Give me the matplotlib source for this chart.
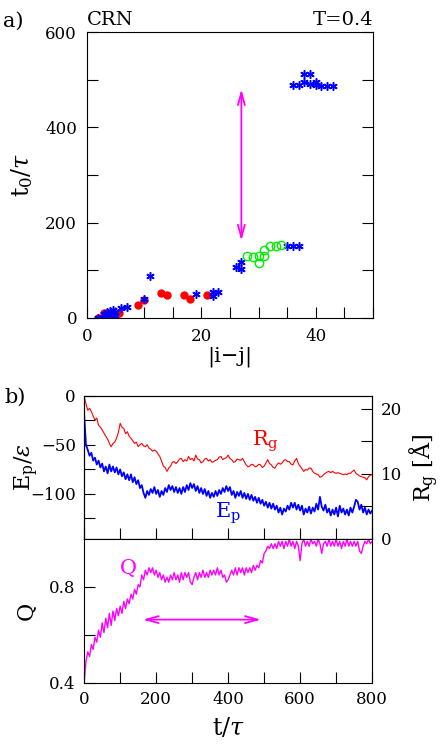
import numpy as np
import matplotlib
matplotlib.use('Agg')
import matplotlib.pyplot as plt
from matplotlib.ticker import MultipleLocator, FixedLocator

plt.rcParams['font.family'] = ['DejaVu Serif']
plt.rcParams['mathtext.fontset'] = 'dejavuserif'

# ---- panel a) : formation time of contacts vs sequence distance ----
red_x = [2, 3, 3, 4, 5.6, 9, 10, 13, 14, 17, 18, 21]
red_y = [0, 10, 1, 1, 10, 27, 38, 52, 48, 48, 39, 47]

blue_x = [2, 3, 3, 3.5, 4, 4, 4.5, 5, 5, 6, 7, 10, 11, 19, 22, 22, 23,
          26, 27, 27, 35, 36, 37, 36, 37, 38, 39, 38, 39, 40, 40, 41, 42, 43]
blue_y = [0, 2, 8, 12, 5, 15, 17, 13, 4, 20, 22, 39, 87, 50, 54, 45, 54,
          106, 117, 103, 150, 150, 150, 489, 489, 512, 512, 496, 491, 496, 489, 487, 487, 487]

green_x = [28, 29, 30, 30, 31, 31, 32, 33, 34]
green_y = [129, 128, 129, 115, 129, 142, 150, 150, 152]

arrow_a_x = 27
arrow_a_y = (162, 480)

# ---- panel b) : time series ----
t = list(range(0, 805, 5))

rg = [21.9, 20.8, 19.8, 20.1, 19.6, 18.9, 18.3, 18.6, 17.5, 17.2,
      16.8, 16.3, 15.8, 15.4, 14.7, 14.2, 14.7, 14.9, 15.5, 16.4,
      17.8, 17.2, 17.0, 16.2, 16.5, 15.8, 15.5, 15.1, 14.7, 14.9,
      14.2, 14.5, 14.7, 14.3, 14.2, 14.5, 14.0, 13.8, 13.5, 13.7,
      13.5, 13.1, 12.7, 12.0, 11.2, 11.0, 10.4, 10.9, 11.2, 11.8,
      11.9, 11.6, 11.9, 12.3, 12.4, 11.9, 12.2, 12.0, 12.7, 12.2,
      12.4, 12.0, 12.9, 12.3, 12.2, 11.7, 11.9, 12.3, 12.4, 12.0,
      12.2, 11.8, 11.9, 12.1, 12.2, 12.6, 12.7, 12.2, 12.4, 12.5,
      12.9, 12.4, 12.2, 11.8, 11.9, 12.3, 12.2, 12.1, 12.4, 11.9,
      11.4, 11.1, 11.2, 11.5, 11.4, 11.1, 11.2, 11.5, 11.4, 11.0,
      11.2, 11.7, 12.2, 11.6, 11.4, 11.0, 10.9, 11.4, 11.7, 11.5,
      11.7, 12.1, 12.2, 11.9, 11.9, 11.5, 11.4, 12.0, 12.4, 11.6,
      11.2, 10.8, 10.4, 10.7, 10.6, 10.9, 10.9, 10.4, 10.1, 10.0,
      9.9, 9.5, 9.6, 9.9, 10.1, 10.3, 10.4, 10.2, 10.4, 10.2,
      10.1, 10.2, 10.1, 10.0, 9.9, 10.0, 9.9, 10.1, 10.1, 10.4,
      10.6, 10.1, 9.9, 9.7, 9.6, 9.5, 9.4, 9.1, 9.6, 9.8,
      9.9]

ep = [-20, -50, -55, -61, -58, -66, -63, -70, -66, -73,
      -69, -77, -72, -79, -70, -77, -72, -78, -73, -80,
      -75, -82, -78, -85, -80, -86, -80, -88, -83, -90,
      -86, -94, -91, -99, -104, -97, -101, -95, -99, -93,
      -100, -96, -103, -97, -101, -94, -98, -91, -96, -92,
      -98, -93, -99, -94, -100, -93, -98, -91, -96, -89,
      -94, -90, -97, -92, -99, -94, -100, -95, -102, -97,
      -104, -99, -103, -97, -102, -96, -100, -94, -98, -92,
      -97, -93, -101, -97, -104, -98, -102, -97, -104, -99,
      -105, -100, -106, -101, -107, -103, -109, -104, -110, -106,
      -112, -108, -114, -109, -115, -110, -116, -112, -119, -114,
      -121, -115, -118, -112, -116, -109, -114, -109, -116, -111,
      -117, -112, -121, -115, -119, -113, -120, -114, -118, -110,
      -116, -103, -113, -117, -111, -119, -115, -122, -116, -121,
      -114, -123, -112, -119, -115, -121, -116, -122, -114, -119,
      -113, -106, -108, -116, -111, -119, -114, -121, -116, -120,
      -117]

q = [0.40, 0.49, 0.53, 0.51, 0.56, 0.54, 0.59, 0.57, 0.62, 0.59,
     0.65, 0.61, 0.67, 0.63, 0.69, 0.64, 0.70, 0.66, 0.71, 0.68,
     0.72, 0.69, 0.74, 0.71, 0.75, 0.73, 0.77, 0.75, 0.79, 0.77,
     0.81, 0.80, 0.85, 0.83, 0.87, 0.85, 0.88, 0.86, 0.88, 0.85,
     0.87, 0.84, 0.86, 0.83, 0.85, 0.82, 0.84, 0.82, 0.85, 0.83,
     0.86, 0.83, 0.85, 0.82, 0.86, 0.83, 0.86, 0.84, 0.86, 0.82,
     0.81, 0.84, 0.86, 0.83, 0.86, 0.84, 0.87, 0.84, 0.86, 0.84,
     0.87, 0.85, 0.87, 0.85, 0.88, 0.85, 0.87, 0.84, 0.85, 0.82,
     0.83, 0.85, 0.87, 0.85, 0.88, 0.85, 0.88, 0.86, 0.88, 0.85,
     0.88, 0.86, 0.88, 0.86, 0.89, 0.87, 0.89, 0.88, 0.91, 0.90,
     0.94, 0.95, 0.97, 0.96, 0.98, 0.96, 0.98, 0.96, 0.99, 0.97,
     0.99, 0.96, 0.99, 0.97, 1.00, 0.97, 0.99, 0.96, 0.99, 0.97,
     0.91, 0.98, 1.00, 0.97, 0.99, 0.97, 1.00, 0.98, 0.99, 0.97,
     1.00, 0.98, 0.94, 0.98, 0.99, 0.97, 1.00, 0.97, 0.99, 0.97,
     1.00, 0.97, 0.99, 0.96, 0.99, 0.97, 1.00, 0.97, 0.99, 0.97,
     0.99, 0.97, 0.99, 0.95, 0.94, 0.97, 0.99, 0.98, 1.00, 0.98,
     0.99]

arrow_b_t = (163, 491)
arrow_b_q = 0.664

RED = '#ff0000'
BLUE = '#0000ff'
GREEN = '#00ee00'
MAG = '#ff00ff'

fig = plt.figure(figsize=(4.43, 7.46), dpi=100)

tick_kw = dict(direction='in', length=8, width=0.8, labelsize=12)

# ---------------- panel a ----------------
ax = fig.add_axes([0.196, 0.574, 0.646, 0.383])
ax.plot(red_x, red_y, 'o', color=RED, ms=5, mec=RED)
ax.plot(blue_x, blue_y, ls='none', marker=(6, 2, 0), color=BLUE, ms=6, mew=1.1)
ax.plot(green_x, green_y, 'o', mfc='none', mec=GREEN, ms=6, mew=1.0)
ax.annotate('', xy=(arrow_a_x, arrow_a_y[1]), xytext=(arrow_a_x, arrow_a_y[0]),
            arrowprops=dict(arrowstyle='<->,head_length=0.9,head_width=0.25',
                            color=MAG, lw=1.3, shrinkA=0, shrinkB=0))
ax.set_xlim(0, 50)
ax.set_ylim(0, 600)
ax.xaxis.set_major_locator(FixedLocator([0, 20, 40]))
ax.xaxis.set_minor_locator(MultipleLocator(5))
ax.yaxis.set_major_locator(MultipleLocator(200))
ax.yaxis.set_minor_locator(MultipleLocator(100))
ax.tick_params(which='both', right=True, top=False, pad=7, **tick_kw)
ax.set_xlabel('|i\u2212j|', fontsize=15)
ax.set_ylabel(r't$_0$/$\tau$', fontsize=17)
ax.yaxis.set_label_coords(-0.18, 0.5)
ax.xaxis.set_label_coords(0.5, -0.10)
ax.text(0.0, 1.012, 'CRN', transform=ax.transAxes, fontsize=14, va='bottom', ha='left')
ax.text(1.0, 1.012, 'T=0.4', transform=ax.transAxes, fontsize=14, va='bottom', ha='right')
fig.text(0.006, 0.972, 'a)', fontsize=15, va='center')

# ---------------- panel b, upper ----------------
ax1 = fig.add_axes([0.190, 0.2775, 0.650, 0.1917])
ax1.plot(t, ep, color=BLUE, lw=1.3)
ax1.set_xlim(0, 800)
ax1.set_ylim(-146, 0)
ax1.yaxis.set_major_locator(FixedLocator([0, -50, -100]))
ax1.yaxis.set_minor_locator(FixedLocator([-25, -75, -125]))
ax1.set_yticklabels(['0', '\u221250', '\u2212100'])
ax1.xaxis.set_major_locator(MultipleLocator(100))
ax1.tick_params(which='both', labelbottom=False, pad=6, **tick_kw)
ax1.set_ylabel(r'E$_\mathrm{p}$/$\epsilon$', fontsize=16)
ax1.yaxis.set_label_coords(-0.15, 0.5)

ax2 = ax1.twinx()
ax2.plot(t, rg, color=RED, lw=0.8)
ax2.set_ylim(0, 22)
ax2.yaxis.set_major_locator(FixedLocator([0, 10, 20]))
ax2.yaxis.set_minor_locator(FixedLocator([5, 15]))
ax2.tick_params(which='both', pad=6, **tick_kw)
ax2.set_ylabel(r'R$_\mathrm{g}$ [Å]', fontsize=16, rotation=90)
ax2.yaxis.set_label_coords(1.125, 0.5)

ax1.text(505, -46, r'R$_\mathrm{g}$', color=RED, fontsize=15, ha='center', va='center')
ax1.text(400, -120, r'E$_\mathrm{p}$', color=BLUE, fontsize=15, ha='center', va='center')
fig.text(0.01, 0.468, 'b)', fontsize=15, va='center')

# ---------------- panel b, lower ----------------
ax3 = fig.add_axes([0.190, 0.0845, 0.650, 0.193])
ax3.plot(t, q, color=MAG, lw=1.0)
ax3.annotate('', xy=(arrow_b_t[1], arrow_b_q), xytext=(arrow_b_t[0], arrow_b_q),
             arrowprops=dict(arrowstyle='<->,head_length=0.9,head_width=0.25',
                             color=MAG, lw=1.3, shrinkA=0, shrinkB=0))
ax3.set_xlim(0, 800)
ax3.set_ylim(0.4, 1.0)
ax3.yaxis.set_major_locator(FixedLocator([0.4, 0.8]))
ax3.yaxis.set_minor_locator(FixedLocator([0.6]))
ax3.set_yticklabels(['0.4', '0.8'])
ax3.xaxis.set_major_locator(MultipleLocator(200))
ax3.xaxis.set_minor_locator(MultipleLocator(100))
ax3.tick_params(which='both', pad=6, **tick_kw)
ax3.set_xlabel(r't/$\tau$', fontsize=17)
ax3.xaxis.set_label_coords(0.5, -0.23)
ax3.set_ylabel('Q', fontsize=16, rotation=90)
ax3.yaxis.set_label_coords(-0.16, 0.5)
ax3.text(122, 0.879, 'Q', color=MAG, fontsize=15, ha='center', va='center')

plt.savefig('out.png', dpi=100)
plt.close()
